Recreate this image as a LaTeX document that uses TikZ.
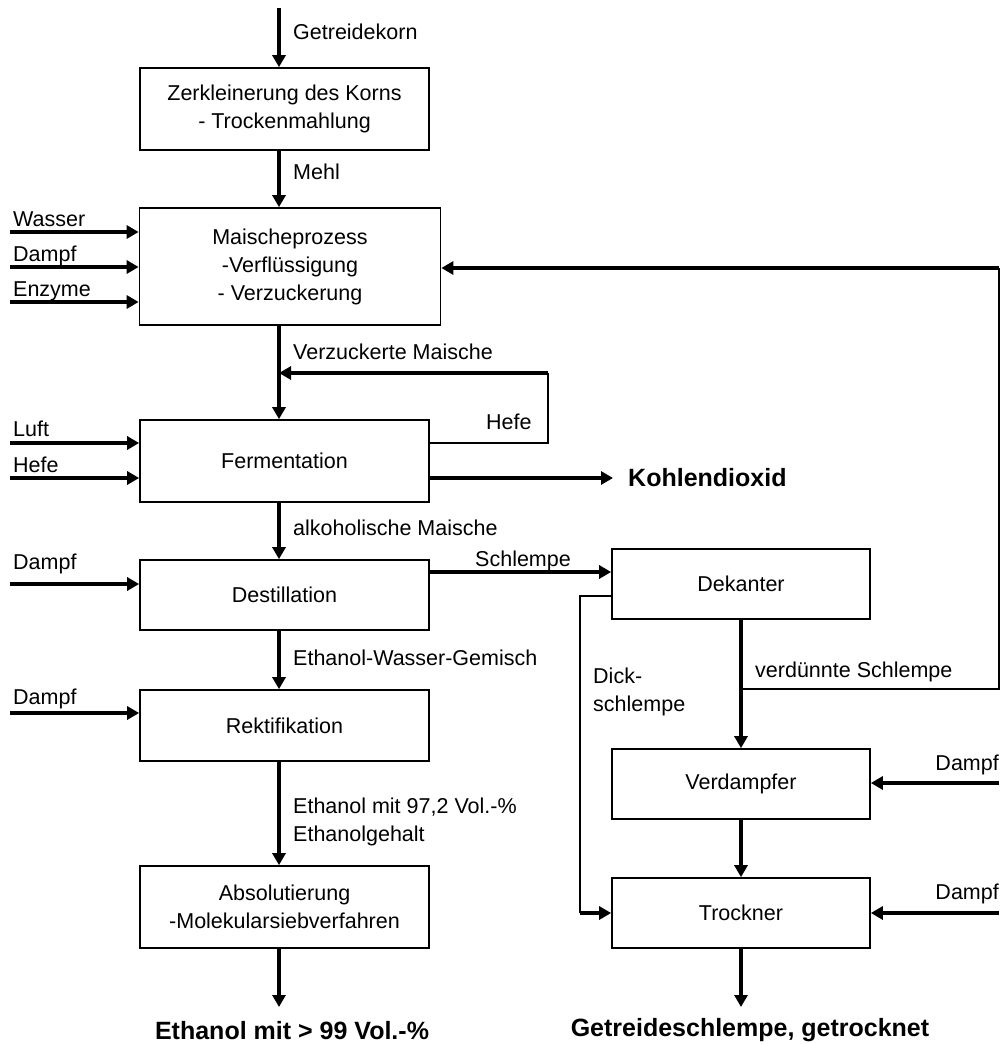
\documentclass[tikz,border=0pt]{standalone}
\usepackage{fontspec}
\setmainfont{Liberation Sans}
\usetikzlibrary{arrows.meta}
\begin{document}
\begin{tikzpicture}[x=1pt,y=-1pt,
  fnt/.style={font=\fontsize{21.5}{28}\selectfont, inner sep=0pt},
  txt/.style={fnt, text height=15.5pt, text depth=4.5pt},
  lbl/.style={txt, anchor=west},
  mlbl/.style={fnt, anchor=west, align=left},
  bold/.style={font=\fontsize{25}{30}\selectfont\bfseries, inner sep=0pt},
  box/.style={draw=black, line width=1.7pt, fnt, align=center},
  lbox/.style={box, minimum width=289pt},
  rbox/.style={box, minimum width=258pt, minimum height=70pt},
  arr/.style={line width=3.2pt, -{Triangle[length=12pt,width=13pt]}},
  thinl/.style={line width=1.7pt}]
\useasboundingbox (0,0) rectangle (1007,1044);

% left column boxes
\node[lbox, minimum height=82pt] (b1) at (284.5,109) {Zerkleinerung des Korns\\- Trockenmahlung};
\node[box, minimum width=301pt, minimum height=117pt] (b2) at (290,266.5) {Maischeprozess\\-Verflüssigung\\- Verzuckerung};
\node[lbox, minimum height=82pt] (b3) at (284.5,461) {Fermentation};
\node[lbox, minimum height=70pt] (b4) at (284.5,595) {Destillation};
\node[lbox, minimum height=71pt] (b5) at (284.5,725.5) {Rektifikation};
\node[lbox, minimum height=82pt] (b6) at (284.5,907) {Absolutierung\\-Molekularsiebverfahren};

% right column boxes
\node[rbox] (dek) at (741,584) {Dekanter};
\node[rbox] (ver) at (741,784) {Verdampfer};
\node[rbox] (tro) at (741,913) {Trockner};

% main axis
\coordinate (ax) at (279,0);
\coordinate (in) at (279,8);
\coordinate (out1) at (279,1007);
\draw[arr] (in) -- (b1.north -| ax);
\draw[arr] (b1.south -| ax) -- (b2.north -| ax);
\draw[arr] (b2.south -| ax) -- (b3.north -| ax);
\draw[arr] (b3.south -| ax) -- (b4.north -| ax);
\draw[arr] (b4.south -| ax) -- (b5.north -| ax);
\draw[arr] (b5.south -| ax) -- (b6.north -| ax);
\draw[arr] (b6.south -| ax) -- (out1);

\node[lbl] (lg) at (293,34) {Getreidekorn};
\node[lbl] (lm) at (293,174) {Mehl};
\node[lbl] (lvm) at (293,354) {Verzuckerte Maische};
\node[lbl] (lam) at (293,530) {alkoholische Maische};
\node[lbl] (lew) at (293,660) {Ethanol-Wasser-Gemisch};
\node[mlbl] (le97) at (293,822) {Ethanol mit 97,2 Vol.-\%\\Ethanolgehalt};
\node[bold] (oe) at (292,1031) {Ethanol mit > 99 Vol.-\%};

% left inputs
\coordinate (i1) at (10,232);
\coordinate (i2) at (10,267);
\coordinate (i3) at (10,302);
\coordinate (i4) at (10,443);
\coordinate (i5) at (10,478);
\coordinate (i6) at (10,584);
\coordinate (i7) at (10,713);
\draw[arr] (i1) -- (i1 -| b2.west);
\draw[arr] (i2) -- (i2 -| b2.west);
\draw[arr] (i3) -- (i3 -| b2.west);
\draw[arr] (i4) -- (i4 -| b3.west);
\draw[arr] (i5) -- (i5 -| b3.west);
\draw[arr] (i6) -- (i6 -| b4.west);
\draw[arr] (i7) -- (i7 -| b5.west);
\node[lbl] (lw) at (13,221) {Wasser};
\node[lbl] (ld1) at (13,256) {Dampf};
\node[lbl] (len) at (13,291) {Enzyme};
\node[lbl] (llu) at (13,431) {Luft};
\node[lbl] (lh1) at (13,467) {Hefe};
\node[lbl] (ld2) at (13,564) {Dampf};
\node[lbl] (ld3) at (13,699) {Dampf};

% Hefe loop
\coordinate (h1) at (548,443);
\coordinate (h2) at (548,373);
\draw[thinl] (h1 -| b3.east) -- (h1) -- (h2);
\draw[arr] (h2) -- (h2 -| ax);
\node[lbl] (lh2) at (486,424) {Hefe};

% Kohlendioxid
\node[bold, anchor=west] (kd) at (628,478) {Kohlendioxid};
\coordinate (k1) at (613,478);
\draw[arr] (k1 -| b3.east) -- (k1);

% Schlempe
\coordinate (s1) at (500,572);
\draw[arr] (s1 -| b4.east) -- (s1 -| dek.west);
\node[lbl] (ls) at (475,561) {Schlempe};

% right column flow
\draw[arr] (dek.south) -- (ver.north);
\draw[arr] (ver.south) -- (tro.north);
\coordinate (out2) at (741,1007);
\draw[arr] (tro.south) -- (out2);
\node[bold] (og) at (750,1030) {Getreideschlempe, getrocknet};

% verduennte Schlempe feedback
\coordinate (f1) at (741,689);
\coordinate (f2) at (999,689);
\coordinate (f3) at (999,268);
\draw[thinl] (f1) -- (f2) -- (f3);
\draw[arr] (f3) -- (f3 -| b2.east);
\node[lbl] (lvs) at (755,672) {verdünnte Schlempe};

% Dickschlempe
\coordinate (d1) at (580,596);
\coordinate (d2) at (580,913);
\draw[thinl] (d1 -| dek.west) -- (d1) -- (d2);
\draw[arr] (d2) -- (tro.west);
\node[mlbl] (ldk) at (593,692) {Dick-\\schlempe};

% right Dampf inputs
\coordinate (r1) at (999,783);
\coordinate (r2) at (999,913);
\draw[arr] (r1) -- (r1 -| ver.east);
\draw[arr] (r2) -- (r2 -| tro.east);
\node[txt, anchor=east] (ld4) at (999,765) {Dampf};
\node[txt, anchor=east] (ld5) at (999,894) {Dampf};
\end{tikzpicture}
\end{document}
